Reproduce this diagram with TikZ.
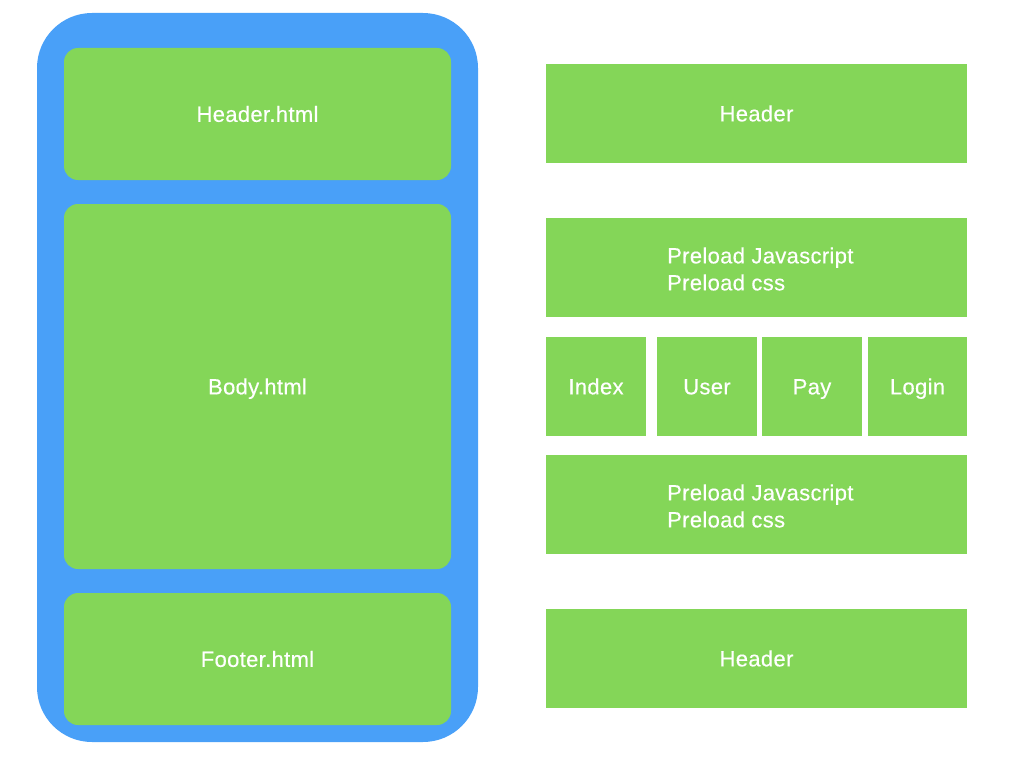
\documentclass[tikz,border=0pt]{standalone}
\usepackage{fontspec}
\setmainfont{Liberation Sans}
\newfontfamily\lbfont[LetterSpace=1.5,FakeBold=0.4]{Liberation Sans}
\definecolor{bblue}{RGB}{73,160,248}
\definecolor{bgreen}{RGB}{132,214,88}
\tikzset{
  outer/.style={fill=bblue, draw=none, rounded corners=55pt, inner sep=0pt},
  filebox/.style={fill=bgreen, draw=none, rounded corners=14pt, inner sep=0pt, text=white, text height=15.7pt, text depth=0pt, font=\lbfont\fontsize{22}{27}\selectfont},
  pagebox/.style={fill=bgreen, draw=none, inner sep=0pt, text=white, text height=15.7pt, text depth=0pt, font=\lbfont\fontsize{22}{27}\selectfont},
  plain/.style={fill=bgreen, draw=none, inner sep=0pt},
  lbl/.style={text=white, inner sep=0pt, align=left, anchor=west, font=\lbfont\fontsize{22}{27}\selectfont}
}
\begin{document}
\begin{tikzpicture}[x=1pt,y=-1pt]
\useasboundingbox (0,0) rectangle (1024,768);
\node[outer, minimum width=441pt, minimum height=729pt] (frame) at (257.5,377.5) {};
\node[filebox, minimum width=387pt, minimum height=132pt] (hdrfile) at (257.5,114) {Header.html};
\node[filebox, minimum width=387pt, minimum height=365pt] (bodyfile) at (257.5,386.5) {Body.html};
\node[filebox, minimum width=387pt, minimum height=132pt] (footfile) at (257.5,659) {Footer.html};

\node[pagebox, minimum width=421pt, minimum height=99pt] (hdr1) at (756.5,113.5) {Header};
\node[plain, minimum width=421pt, minimum height=99pt] (pre1) at (756.5,267.5) {};
\node[lbl] (pre1t) at (667,269) {Preload Javascript\\Preload css};
\node[pagebox, minimum width=100pt, minimum height=99pt] (idx) at (596,386.5) {Index};
\node[pagebox, minimum width=100pt, minimum height=99pt] (usr) at (707,386.5) {User};
\node[pagebox, minimum width=100pt, minimum height=99pt] (pay) at (812,386.5) {Pay};
\node[pagebox, minimum width=99pt, minimum height=99pt] (login) at (917.5,386.5) {Login};
\node[plain, minimum width=421pt, minimum height=99pt] (pre2) at (756.5,504.5) {};
\node[lbl] (pre2t) at (667,506) {Preload Javascript\\Preload css};
\node[pagebox, minimum width=421pt, minimum height=99pt] (hdr2) at (756.5,658.5) {Header};
\end{tikzpicture}
\end{document}
